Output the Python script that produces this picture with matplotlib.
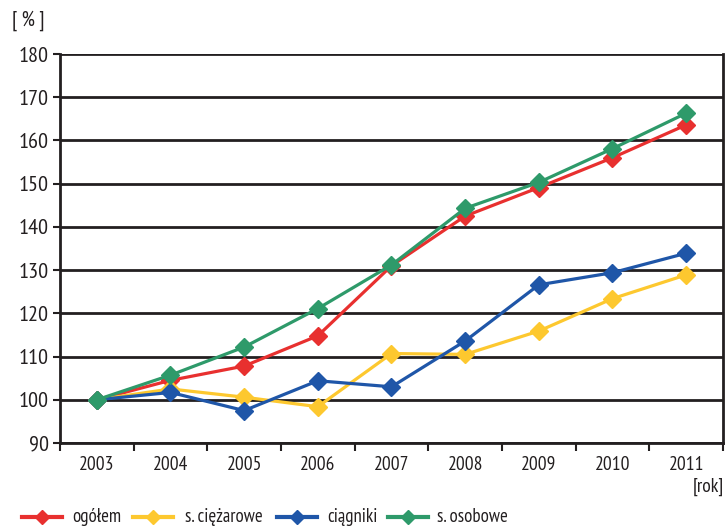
import matplotlib
matplotlib.use("Agg")
import matplotlib.pyplot as plt
from matplotlib import font_manager
from matplotlib.lines import Line2D

years = ["2003", "2004", "2005", "2006", "2007", "2008", "2009", "2010", "2011"]
ogolem = [100, 104.5, 107.8, 114.8, 131.0, 142.5, 149.1, 156.0, 163.6]
ciezarowe = [100, 102.5, 100.6, 98.4, 110.7, 110.5, 115.9, 123.4, 128.9]
ciagniki = [100, 101.7, 97.5, 104.4, 103.0, 113.6, 126.6, 129.4, 133.9]
osobowe = [100, 105.7, 112.2, 121.1, 131.2, 144.3, 150.3, 158.1, 166.3]
series_labels = ["ogółem", "s. ciężarowe", "ciągniki", "s. osobowe"]
y_ticks = [90, 100, 110, 120, 130, 140, 150, 160, 170, 180]

colors = ["#e8302f", "#fdc82f", "#1f56a8", "#2e9a6a"]

# pick a condensed sans family if one is present
available = {f.name for f in font_manager.fontManager.ttflist}
family = "Liberation Sans"
for cand in ["PT Sans Narrow", "Fira Sans Condensed", "Roboto Condensed", "Archivo Narrow",
             "Asap Condensed", "Encode Sans Condensed", "Liberation Sans Narrow"]:
    if cand in available:
        family = cand
        break
plt.rcParams["font.family"] = [family, "DejaVu Sans"]
txt_color = "#231f20"

fig = plt.figure(figsize=(7.25, 5.28), dpi=100)
ax = fig.add_axes([60 / 725, 85 / 528, 663 / 725, 389 / 528])

x = list(range(len(years)))
data = [ogolem, ciezarowe, ciagniki, osobowe]
for vals, c in zip(data, colors):
    ax.plot(x, vals, color=c, lw=2.3, marker="D", ms=9, mec=c, zorder=3)

ax.set_xlim(-0.5, len(years) - 0.5)
ax.set_ylim(90, 180)
ax.set_yticks(y_ticks)
ax.set_yticklabels([str(v) for v in y_ticks], fontsize=16, color=txt_color)
for v in y_ticks:
    ax.axhline(v, color="#231f20", lw=2.0, zorder=1)

ax.set_xticks(x)
ax.set_xticklabels(years, fontsize=14, color=txt_color)
ax.tick_params(axis="x", length=0, pad=9)
ax.set_xticks([i - 0.5 for i in range(len(years) + 1)], minor=True)
ax.tick_params(axis="x", which="minor", length=6, width=1.5, color="#231f20", direction="out")
ax.tick_params(axis="y", length=5, width=1.5, color="#231f20", pad=3)

for s in ["left", "right", "bottom", "top"]:
    ax.spines[s].set_color("#231f20")
    ax.spines[s].set_linewidth(2.0)
ax.spines["top"].set_visible(False)

fig.text(12 / 725, 1 - 21 / 528, "[ % ]", fontsize=15, color=txt_color, va="center", ha="left")
fig.text(724 / 725, 1 - 487 / 528, "[rok]", fontsize=14, color=txt_color, va="center", ha="right")

# legend row along the bottom
leg_y = 1 - 517 / 528
leg_items = [(22, 62, 72), (133, 173, 185), (277, 317, 327), (388, 428, 437)]
for (x0, x1, xt), c, lab in zip(leg_items, colors, series_labels):
    fig.add_artist(Line2D([x0 / 725, x1 / 725], [leg_y, leg_y], color=c, lw=3,
                          transform=fig.transFigure))
    fig.add_artist(Line2D([(x0 + x1) / 2 / 725], [leg_y], color=c, marker="D", ms=7, mec=c,
                          transform=fig.transFigure))
    fig.text(xt / 725, leg_y, lab, fontsize=13.5, color=txt_color, va="center", ha="left")

fig.savefig("out.png", dpi=100)
